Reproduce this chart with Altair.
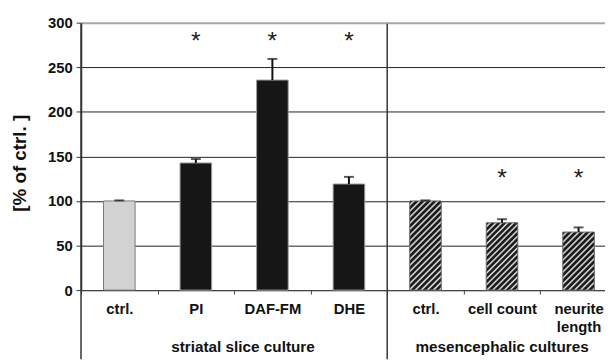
import altair as alt
import pandas as pd

# ---- data ----
keys = ["ctrl.|s", "PI", "DAF-FM", "DHE", "ctrl.|m", "cell count", "neurite~length"]
groups = ["striatal", "striatal", "striatal", "striatal",
          "mesencephalic", "mesencephalic", "mesencephalic"]
styles = ["ctrl", "black", "black", "black", "hatch", "hatch", "hatch"]
values = [100, 142.6, 235.6, 119.0, 100, 75.5, 65.1]
errors = [0.6, 4.4, 23.7, 8.0, 0.6, 4.0, 5.2]
stars = [None, 282, 282, 282, None, 128, 128]
group_labels = ["striatal slice culture", "mesencephalic cultures"]
group_anchor = ["DAF-FM", "cell count"]
y_ticks = [0, 50, 100, 150, 200, 250, 300]

df = pd.DataFrame({"key": keys, "group": groups, "style": styles,
                   "value": values, "err": errors})
df["upper"] = df["value"] + df["err"]
star_df = pd.DataFrame({"key": keys, "star": stars}).dropna()
grp_df = pd.DataFrame({"label": group_labels, "key": group_anchor})
div_df = pd.DataFrame({"key": ["ctrl.|s", "ctrl.|m"]})

# ---- layout ----
W, H = 531, 271
FULL_RANGE = 543
PPU = H / 300.0
BAR_W = 32
FONT = "Liberation Sans"

xscale = alt.Scale(domain=keys, range=[0, FULL_RANGE], paddingInner=0, paddingOuter=0)
xaxis = alt.Axis(title=None, labelAngle=0, tickBand="extent", tickSize=4,
                 tickColor="#444", domainColor="#444", domainWidth=1.2,
                 labelFont=FONT, labelFontSize=15, labelFontWeight="bold",
                 labelColor="#111", labelPadding=8, labelLineHeight=18,
                 labelBaseline="top",
                 labelExpr="split(split(datum.label, '|')[0], '~')")


def X(bp=0.5):
    return alt.X("key:N", sort=keys, scale=xscale, axis=xaxis, bandPosition=bp)


yscale = alt.Scale(domain=[0, 300], nice=False, zero=True)
yaxis = alt.Axis(title="[% of ctrl. ]", values=y_ticks, tickSize=5, tickColor="#333",
                 domainColor="#333", domainWidth=1.5,
                 labelFont=FONT, labelFontSize=15, labelFontWeight="bold",
                 labelColor="#111", labelPadding=4,
                 titleFont=FONT, titleFontSize=19, titleFontWeight="bold",
                 titleColor="#111", titleX=-62, titleY=142, titleAngle=-90,
                 titleAlign="center", titleBaseline="middle",
                 grid=True,
                 gridColor={"condition": {"test": "datum.value === 300", "value": "#a8a8a8"},
                            "value": "#222"},
                 gridWidth={"condition": {"test": "datum.value === 300", "value": 2},
                            "value": 1})


def Y(field="value"):
    return alt.Y(f"{field}:Q", scale=yscale, axis=yaxis)


base = alt.Chart(df)

ctrl_bar = base.transform_filter("datum.style == 'ctrl'").mark_bar(
    width=BAR_W, fill="#d2d2d2", stroke="#7a7a7a", strokeWidth=1
).encode(x=X(), y=Y())

black_bar = base.transform_filter("datum.style == 'black'").mark_bar(
    width=BAR_W, fill="#161616", stroke="#9a9a9a", strokeWidth=1
).encode(x=X(), y=Y())


def hatch_gradient(v):
    h = v * PPU
    w = BAR_W
    c = (w + h) / (w * w + h * h)
    period = 6.0
    n = max(1, int(round((w + h) / period)))
    dark, light = "#1c1c1c", "#cfcfcf"
    stops = []
    for i in range(n):
        stops += [
            alt.GradientStop(offset=i / n, color=dark),
            alt.GradientStop(offset=(i + 0.4) / n, color=dark),
            alt.GradientStop(offset=(i + 0.62) / n, color=light),
            alt.GradientStop(offset=(i + 0.78) / n, color=light),
        ]
    stops.append(alt.GradientStop(offset=1.0, color=dark))
    return alt.Gradient(gradient="linear", stops=stops, x1=0, y1=0, x2=c * w, y2=c * h)


hatch_layers = []
for k, s, v in zip(keys, styles, values):
    if s != "hatch":
        continue
    hatch_layers.append(
        base.transform_filter(alt.datum.key == k).mark_bar(
            width=BAR_W, fill=hatch_gradient(v), stroke="#6a6a6a", strokeWidth=1
        ).encode(x=X(), y=Y())
    )

err_rule = base.mark_rule(color="#111", strokeWidth=2).encode(
    x=X(), y=Y("value"), y2="upper:Q")
err_cap = base.mark_tick(color="#111", thickness=2, size=10, orient="horizontal").encode(
    x=X(), y=Y("upper"))

star_text = alt.Chart(star_df).mark_text(
    text="*", font=FONT, fontSize=25, color="#222", baseline="middle", dy=2
).encode(x=X(), y=alt.Y("star:Q", scale=yscale, axis=yaxis))

dividers = alt.Chart(div_df).mark_rule(color="#333", strokeWidth=1.5).encode(
    x=X(0), y=alt.value(1), y2=alt.value(H + 70))

grp_s = alt.Chart(grp_df).transform_filter(alt.datum.key == "DAF-FM").mark_text(
    font=FONT, fontSize=15.5, fontWeight="bold", color="#111", baseline="alphabetic",
    align="center", dx=9
).encode(x=X(0), y=alt.value(333.5), text="label:N")

grp_m = alt.Chart(grp_df).transform_filter(alt.datum.key == "cell count").mark_text(
    font=FONT, fontSize=15.5, fontWeight="bold", color="#111", baseline="alphabetic",
    align="center"
).encode(x=X(0.5), y=alt.value(333.5), text="label:N")

chart = alt.layer(
    ctrl_bar, black_bar, *hatch_layers, err_rule, err_cap, star_text,
    dividers, grp_s, grp_m
).properties(
    width=W, height=H,
    autosize=alt.AutoSizeParams(type="none"),
    padding={"left": 74, "top": 12.5, "right": 0, "bottom": 68.5},
    background="white",
).configure_view(stroke=None)

chart.save("out.html", embed_options={"renderer": "svg", "actions": False})
